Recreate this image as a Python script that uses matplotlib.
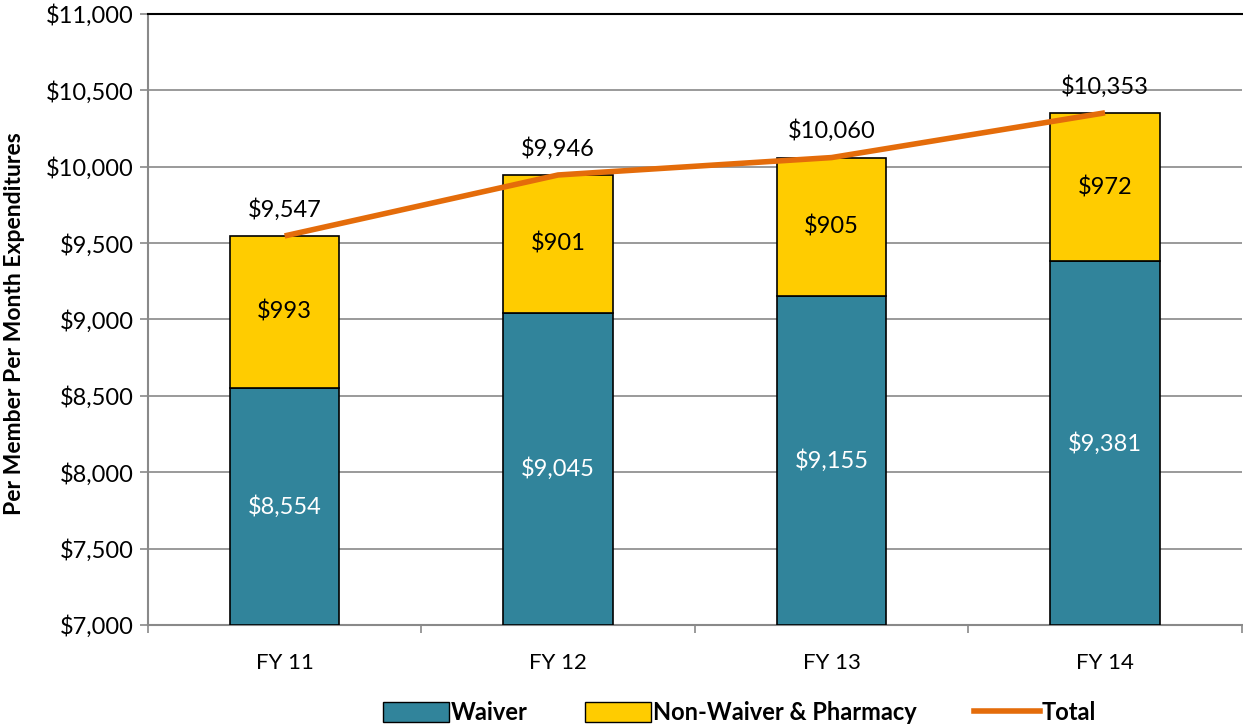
import matplotlib
matplotlib.use("Agg")
import matplotlib.pyplot as plt
from matplotlib.patches import Patch
from matplotlib.lines import Line2D

categories = ["FY 11", "FY 12", "FY 13", "FY 14"]
waiver = [8554, 9045, 9155, 9381]
non_waiver = [993, 901, 905, 972]
total = [9547, 9946, 10060, 10353]

BLUE = "#31849B"
YELLOW = "#FFCC00"
ORANGE = "#E46C0A"
GRID = "#898989"

plt.rcParams["font.family"] = ["Lato", "DejaVu Sans"]

fig = plt.figure(figsize=(12.43, 7.28), dpi=100)
ax = fig.add_axes([0.119, 0.1415, 0.880, 0.8393])

x = list(range(len(categories)))
w = 0.40
base = 7000
ax.bar(x, [v - base for v in waiver], w, bottom=base, color=BLUE,
       edgecolor="black", linewidth=1.2, zorder=3)
ax.bar(x, non_waiver, w, bottom=waiver, color=YELLOW,
       edgecolor="black", linewidth=1.2, zorder=3)
ax.plot(x, total, color=ORANGE, linewidth=4, zorder=4, solid_capstyle="butt")

for i in x:
    ax.text(i, (base + waiver[i]) / 2, f"${waiver[i]:,}", ha="center",
            va="center", color="white", fontsize=17, zorder=5)
    ax.text(i, waiver[i] + non_waiver[i] / 2, f"${non_waiver[i]:,}",
            ha="center", va="center", color="black", fontsize=17, zorder=5)
    ax.text(i, total[i] + 100, f"${total[i]:,}", ha="center", va="bottom",
            color="black", fontsize=17, zorder=5)

ax.set_xlim(-0.5, len(categories) - 0.5)
ax.set_ylim(7000, 11000)
ax.set_yticks(range(7000, 11001, 500))
ax.set_yticklabels([f"${v:,}" for v in range(7000, 11001, 500)], fontsize=17)
ax.set_xticks(x)
ax.set_xticklabels(categories, fontsize=16)
ax.tick_params(axis="x", length=0, pad=20)
ax.set_xticks([i - 0.5 for i in range(len(categories) + 1)], minor=True)
ax.tick_params(axis="x", which="minor", length=6, color=GRID, width=1.2)
ax.tick_params(axis="y", length=6, color=GRID, width=1.2, pad=4)

ax.yaxis.grid(True, color=GRID, linewidth=1.2, zorder=0)
ax.set_axisbelow(True)
for side in ["left", "bottom"]:
    ax.spines[side].set_color(GRID)
    ax.spines[side].set_linewidth(1.5)
ax.spines["right"].set_visible(False)
ax.spines["top"].set_color("black")
ax.spines["top"].set_linewidth(1.5)

fig.text(0.012, 0.555, "Per Member Per Month Expenditures", rotation=90,
         ha="center", va="center", fontsize=16.5, fontweight="bold")

handles = [
    Patch(facecolor=BLUE, edgecolor="black", label="Waiver"),
    Patch(facecolor=YELLOW, edgecolor="black", label="Non-Waiver & Pharmacy"),
    Line2D([0], [0], color=ORANGE, linewidth=4, label="Total"),
]
leg = fig.legend(handles=handles, loc="center", bbox_to_anchor=(0.595, 0.021),
                 ncol=3, frameon=False, prop={"weight": "bold", "size": 17},
                 handlelength=2.8, handleheight=0.9, handletextpad=0.1,
                 columnspacing=2.4)

fig.savefig("out.png", dpi=100)
